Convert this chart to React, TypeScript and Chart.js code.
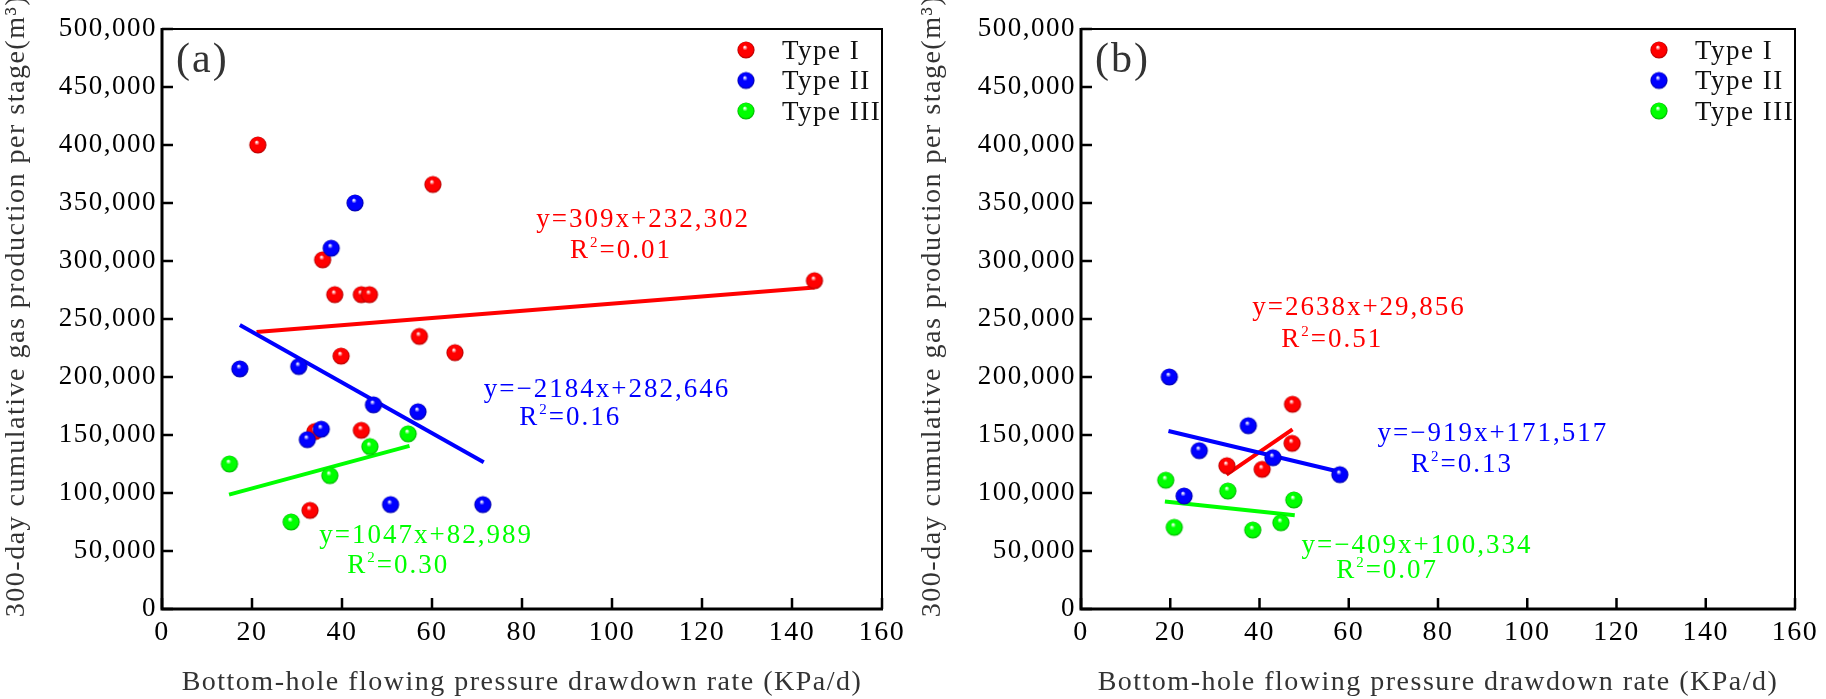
import { useEffect, useRef } from 'react';
import { Chart, registerables } from 'chart.js';

Chart.register(...registerables);

const FONT = "'Liberation Serif', 'Times New Roman', serif";
const RED = '#ff0000';
const BLUE = '#0000ff';
const GREEN = '#00ff00';

const X_MAX = 160;
const X_STEP = 20;
const Y_MAX = 500000;
const Y_STEP = 50000;
const X_TITLE = 'Bottom-hole flowing pressure drawdown rate (KPa/d)';
const Y_TITLE = '300-day cumulative gas production per stage(m\u00b3)';
const LEGEND = ['Type I', 'Type II', 'Type III'];

// panel (a) points
const A_TYPE_I = [
  { x: 21.3, y: 400000 }, { x: 60.2, y: 366000 }, { x: 35.7, y: 301000 }, { x: 38.4, y: 271000 },
  { x: 44.3, y: 271000 }, { x: 46.1, y: 271000 }, { x: 57.2, y: 235000 }, { x: 65.1, y: 221000 },
  { x: 39.8, y: 218000 }, { x: 34.0, y: 153000 }, { x: 44.3, y: 154000 }, { x: 32.9, y: 85000 },
  { x: 145, y: 283000 },
];
const A_TYPE_II = [
  { x: 42.9, y: 350000 }, { x: 37.6, y: 311000 }, { x: 17.3, y: 207000 }, { x: 30.4, y: 209000 },
  { x: 47.0, y: 176000 }, { x: 56.9, y: 170000 }, { x: 35.4, y: 155000 }, { x: 32.3, y: 146000 },
  { x: 50.8, y: 90000 }, { x: 71.3, y: 90000 },
];
const A_TYPE_III = [
  { x: 54.7, y: 151000 }, { x: 46.2, y: 140000 }, { x: 15.0, y: 125000 }, { x: 37.3, y: 115000 },
  { x: 28.7, y: 75000 },
];

// panel (b) points
const B_TYPE_I = [
  { x: 47.4, y: 176500 }, { x: 47.3, y: 142800 }, { x: 32.7, y: 123500 }, { x: 40.6, y: 120400 },
];
const B_TYPE_II = [
  { x: 19.8, y: 200000 }, { x: 37.5, y: 158000 }, { x: 26.5, y: 136500 }, { x: 43.0, y: 130400 },
  { x: 58.0, y: 115800 }, { x: 23.1, y: 97400 },
];
const B_TYPE_III = [
  { x: 19.0, y: 111000 }, { x: 32.9, y: 101700 }, { x: 47.7, y: 94000 }, { x: 20.9, y: 70400 },
  { x: 38.5, y: 68100 }, { x: 44.8, y: 74400 },
];

// linear fits: slope, intercept, x range, equation text, R²
const A_FITS = [
  { slope: 309, intercept: 232302, from: 21, to: 145, eq: 'y=309x+232,302', r2: '0.01' },
  { slope: -2184, intercept: 282646, from: 17.3, to: 71.5, eq: 'y=\u22122184x+282,646', r2: '0.16' },
  { slope: 1047, intercept: 82989, from: 14.9, to: 55, eq: 'y=1047x+82,989', r2: '0.30' },
];
const B_FITS = [
  { slope: 2638, intercept: 29856, from: 32.6, to: 47.4, eq: 'y=2638x+29,856', r2: '0.51' },
  { slope: -919, intercept: 171517, from: 19.6, to: 58.1, eq: 'y=\u2212919x+171,517', r2: '0.13' },
  { slope: -409, intercept: 100334, from: 18.8, to: 47.9, eq: 'y=\u2212409x+100,334', r2: '0.07' },
];

// where the equation / R² labels sit, in data units (centre x, baseline y)
const A_EQ_AT = [{ x: 106.9, y: 329000 }, { x: 98.9, y: 183000 }, { x: 58.7, y: 57200 }];
const A_R2_AT = [{ x: 102, y: 302600 }, { x: 90.7, y: 158600 }, { x: 52.5, y: 30800 }];
const B_EQ_AT = [{ x: 62.3, y: 253400 }, { x: 92.3, y: 144800 }, { x: 75.3, y: 48000 }];
const B_R2_AT = [{ x: 56.3, y: 226000 }, { x: 85.4, y: 118000 }, { x: 68.6, y: 26700 }];

const COLORS = [RED, BLUE, GREEN];
const DARKS = ['#a80000', '#00009c', '#00a800'];

type Pt = { x: number; y: number };
type Fit = { slope: number; intercept: number; from: number; to: number; eq: string; r2: string };

function makeBall(color: string, dark: string, r: number) {
  const c = document.createElement('canvas');
  const s = Math.ceil(r * 2 + 2);
  c.width = s;
  c.height = s;
  const g = c.getContext('2d')!;
  const cx = s / 2, cy = s / 2;
  const grad = g.createRadialGradient(cx - r * 0.15, cy - r * 0.35, r * 0.04, cx, cy, r);
  grad.addColorStop(0, '#ffffff');
  grad.addColorStop(0.28, color);
  grad.addColorStop(0.8, color);
  grad.addColorStop(1, dark);
  g.fillStyle = grad;
  g.beginPath();
  g.arc(cx, cy, r, 0, Math.PI * 2);
  g.fill();
  return c;
}

function drawR2(ctx: CanvasRenderingContext2D, cx: number, base: number, value: string) {
  const big = `27px ${FONT}`;
  const small = `15px ${FONT}`;
  ctx.font = big;
  const wR = ctx.measureText('R').width;
  const rest = '=' + value;
  const wRest = ctx.measureText(rest).width;
  ctx.font = small;
  const w2 = ctx.measureText('2').width;
  let x = cx - (wR + w2 + wRest) / 2;
  ctx.textAlign = 'left';
  ctx.font = big;
  ctx.fillText('R', x, base);
  x += wR;
  ctx.font = small;
  ctx.fillText('2', x, base - 11);
  x += w2;
  ctx.font = big;
  ctx.fillText(rest, x, base);
}

interface PanelProps {
  letter: string;
  types: Pt[][];
  fits: Fit[];
  eqAt: Pt[];
  r2At: Pt[];
  axisWidth: number;
  padRight: number;
  titleX: number;
}

function Panel({ letter, types, fits, eqAt, r2At, axisWidth, padRight, titleX }: PanelProps) {
  const ref = useRef<HTMLCanvasElement>(null);

  useEffect(() => {
    if (!ref.current) return;
    const balls = COLORS.map((c, i) => makeBall(c, DARKS[i], 8.6));

    const decor = {
      id: 'decor',
      beforeDraw(chart: Chart) {
        (chart.ctx as any).letterSpacing = '1.5px';
      },
      afterDraw(chart: Chart) {
        const { ctx, chartArea: a, scales } = chart;
        const xs = scales.x, ys = scales.y;
        ctx.save();
        (ctx as any).letterSpacing = '0px';
        ctx.strokeStyle = '#000';
        // frame
        ctx.lineWidth = 2;
        ctx.beginPath();
        ctx.moveTo(a.left, a.top);
        ctx.lineTo(a.right, a.top);
        ctx.lineTo(a.right, a.bottom);
        ctx.stroke();
        ctx.lineWidth = 3;
        ctx.beginPath();
        ctx.moveTo(a.left, a.top - 1);
        ctx.lineTo(a.left, a.bottom);
        ctx.lineTo(a.right + 1, a.bottom);
        ctx.stroke();
        // inward ticks
        ctx.lineWidth = 2.5;
        ctx.beginPath();
        xs.ticks.forEach(t => {
          const px = xs.getPixelForValue(t.value);
          ctx.moveTo(px, a.bottom);
          ctx.lineTo(px, a.bottom - 11);
        });
        ys.ticks.forEach(t => {
          const py = ys.getPixelForValue(t.value);
          ctx.moveTo(a.left, py);
          ctx.lineTo(a.left + 11, py);
        });
        ctx.stroke();

        // y-axis title, sitting a little above the plot centre
        ctx.save();
        (ctx as any).letterSpacing = '1.5px';
        ctx.fillStyle = '#333';
        ctx.font = `28px ${FONT}`;
        ctx.textAlign = 'center';
        ctx.textBaseline = 'middle';
        ctx.translate(titleX, (a.top + a.bottom) / 2 - 13);
        ctx.rotate(-Math.PI / 2);
        ctx.fillText(Y_TITLE, 0, 0);
        ctx.restore();

        // panel letter
        ctx.fillStyle = '#333';
        ctx.font = `42px ${FONT}`;
        ctx.textAlign = 'left';
        ctx.textBaseline = 'alphabetic';
        (ctx as any).letterSpacing = '2px';
        ctx.fillText(`(${letter})`, a.left + 14, a.top + 43);

        // legend
        (ctx as any).letterSpacing = '1.5px';
        ctx.font = `27px ${FONT}`;
        LEGEND.forEach((name, i) => {
          const cy = a.top + 21 + i * 30.5;
          const b = balls[i];
          ctx.drawImage(b, a.right - 136 - b.width / 2, cy - b.height / 2);
          ctx.fillStyle = '#111';
          ctx.fillText(name, a.right - 100, cy + 8.5);
        });

        // fit equations
        (ctx as any).letterSpacing = '2px';
        fits.forEach((f, i) => {
          ctx.fillStyle = COLORS[i];
          ctx.font = `27px ${FONT}`;
          ctx.textAlign = 'center';
          ctx.fillText(f.eq, xs.getPixelForValue(eqAt[i].x), ys.getPixelForValue(eqAt[i].y));
          drawR2(ctx, xs.getPixelForValue(r2At[i].x), ys.getPixelForValue(r2At[i].y), f.r2);
        });
        ctx.restore();
      },
    };

    const order = [3, 2, 1];
    const pointSets = types.map((data, i) => ({
      label: LEGEND[i],
      data,
      pointStyle: balls[i],
      pointRadius: 9,
      showLine: false,
      order: order[i],
    }));
    const lineSets = fits.map((f, i) => ({
      label: 'fit ' + LEGEND[i],
      data: [f.from, f.to].map(x => ({ x, y: f.slope * x + f.intercept })),
      showLine: true,
      borderColor: COLORS[i],
      borderWidth: 4,
      pointRadius: 0,
      order: 10 + order[i],
    }));

    const chart = new Chart(ref.current, {
      type: 'scatter',
      data: { datasets: [...pointSets, ...lineSets] as any },
      options: {
        animation: false,
        responsive: true,
        maintainAspectRatio: false,
        layout: { padding: { top: 29, right: padRight, left: 0, bottom: 0 } },
        plugins: { legend: { display: false }, tooltip: { enabled: false } },
        scales: {
          x: {
            type: 'linear', min: 0, max: X_MAX,
            afterFit: (s: any) => { s.height = 90; },
            grid: { display: false, drawTicks: false },
            border: { display: false },
            ticks: { stepSize: X_STEP, color: '#000', padding: 10, font: { family: FONT, size: 28, lineHeight: 1 } },
            title: { display: true, text: X_TITLE, color: '#333', padding: { top: 0, bottom: 2 }, font: { family: FONT, size: 28, lineHeight: 1 } },
          },
          y: {
            type: 'linear', min: 0, max: Y_MAX,
            afterFit: (s: any) => { s.width = axisWidth; },
            grid: { display: false, drawTicks: false },
            border: { display: false },
            ticks: {
              stepSize: Y_STEP, color: '#000', padding: 5, font: { family: FONT, size: 27, lineHeight: 1 },
              callback: (v: any) => Number(v).toLocaleString('en-US'),
            },
            title: { display: false },
          },
        },
      },
      plugins: [decor],
    });
    return () => { chart.destroy(); };
  }, [letter, types, fits, eqAt, r2At, axisWidth, padRight, titleX]);

  return (
    <div style={{ position: 'relative', width: 913, height: 699 }}>
      <canvas ref={ref} />
    </div>
  );
}

export default function App() {
  return (
    <div style={{ position: 'fixed', left: 0, top: 0, width: 1826, height: 699, display: 'flex', background: '#fff' }}>
      <Panel letter="a" types={[A_TYPE_I, A_TYPE_II, A_TYPE_III]} fits={A_FITS} eqAt={A_EQ_AT} r2At={A_R2_AT}
        axisWidth={162} padRight={30} titleX={17} />
      <Panel letter="b" types={[B_TYPE_I, B_TYPE_II, B_TYPE_III]} fits={B_FITS} eqAt={B_EQ_AT} r2At={B_R2_AT}
        axisWidth={168} padRight={25} titleX={20} />
    </div>
  );
}
